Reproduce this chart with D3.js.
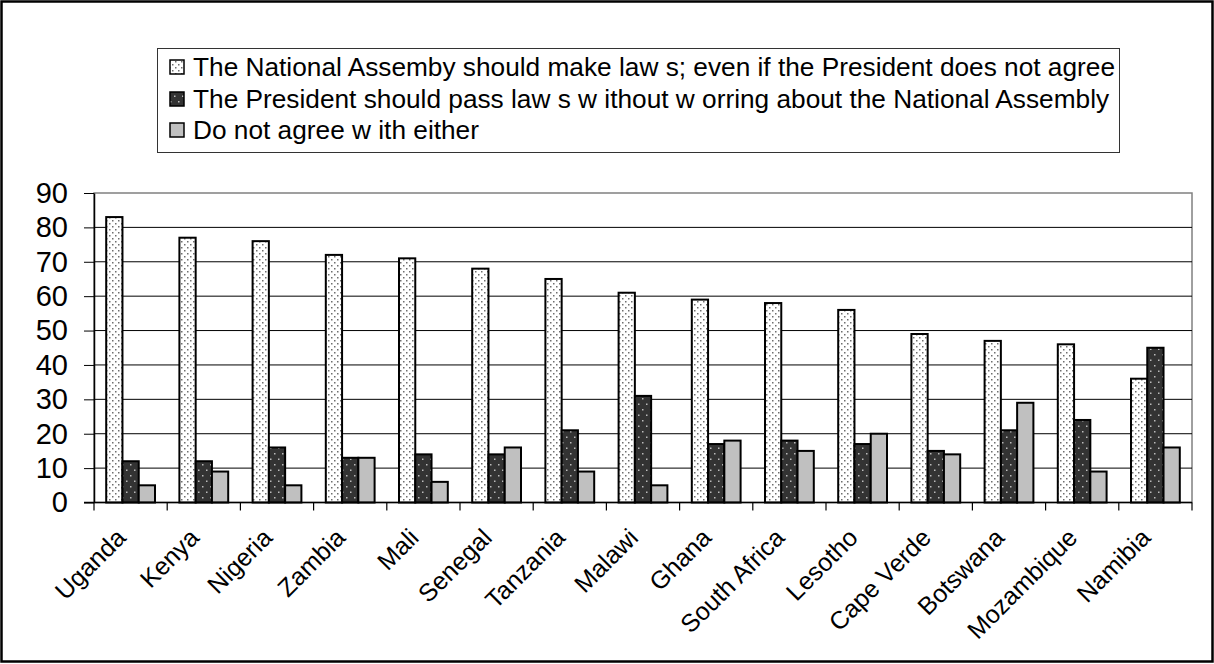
<!DOCTYPE html>
<html>
<head>
<meta charset="utf-8">
<script src="https://cdn.jsdelivr.net/npm/d3@7"></script>
<style>
  body { margin: 0; background: #fff; }
  svg { display: block; font-family: "Liberation Sans", Arial, sans-serif; }
</style>
</head>
<body>
<script>
const countries = [
  "Uganda", "Kenya", "Nigeria", "Zambia", "Mali", "Senegal", "Tanzania", "Malawi",
  "Ghana", "South Africa", "Lesotho", "Cape Verde", "Botswana", "Mozambique", "Namibia"
];

// National Assembly should make laws
const assemblyLaws = [83, 77, 76, 72, 71, 68, 65, 61, 59, 58, 56, 49, 47, 46, 36];
// President should pass laws
const presidentLaws = [12, 12, 16, 13, 14, 14, 21, 31, 17, 18, 17, 15, 21, 24, 45];
// agree with neither
const neither = [5, 9, 5, 13, 6, 16, 9, 5, 18, 15, 20, 14, 29, 9, 16];

const seriesNames = [
  "The National Assemby should make law s; even if the President does not agree",
  "The President should pass law s w ithout w orring about the National Assembly",
  "Do not agree w ith either"
];

const yTicks = [0, 10, 20, 30, 40, 50, 60, 70, 80, 90];

const series = [assemblyLaws, presidentLaws, neither];
const fills = ["url(#dots-light)", "url(#dots-dark)", "#c0c0c0"];

const W = 1214, H = 664;

const svg = d3
  .select("body")
  .append("svg")
  .attr("width", W)
  .attr("height", H);

// patterns
const defs = svg.append("defs");

const p1 = defs
  .append("pattern")
  .attr("id", "dots-light")
  .attr("patternUnits", "userSpaceOnUse")
  .attr("width", 6)
  .attr("height", 6);
p1.append("rect").attr("width", 6).attr("height", 6).attr("fill", "#fff");
p1.append("rect").attr("x", 1).attr("y", 1).attr("width", 1.5).attr("height", 1.5).attr("fill", "#6e6e6e");
p1.append("rect").attr("x", 4).attr("y", 4).attr("width", 1.5).attr("height", 1.5).attr("fill", "#6e6e6e");

const p2 = defs
  .append("pattern")
  .attr("id", "dots-dark")
  .attr("patternUnits", "userSpaceOnUse")
  .attr("width", 8)
  .attr("height", 11);
p2.append("rect").attr("width", 8).attr("height", 11).attr("fill", "#333");
p2.append("rect").attr("x", 2).attr("y", 2).attr("width", 1.5).attr("height", 1.5).attr("fill", "#bbb");
p2.append("rect").attr("x", 6).attr("y", 7.5).attr("width", 1.5).attr("height", 1.5).attr("fill", "#bbb");

// outer frame
svg
  .append("rect")
  .attr("x", 1.5)
  .attr("y", 1.5)
  .attr("width", W - 3)
  .attr("height", H - 4)
  .attr("fill", "none")
  .attr("stroke", "#000")
  .attr("stroke-width", 2.5);

// scales
const x = d3.scaleBand().domain(countries).range([94, 1192]).paddingInner(0).paddingOuter(0);
const xSub = d3.scaleBand().domain([0, 1, 2]).range([0, x.bandwidth()]).paddingInner(0).paddingOuter(0.75);
const y = d3.scaleLinear().domain([0, 90]).range([502.5, 193]);

// plot area border
svg
  .append("rect")
  .attr("x", 94)
  .attr("y", y(90))
  .attr("width", 1192 - 94)
  .attr("height", y(0) - y(90))
  .attr("fill", "none")
  .attr("stroke", "#808080")
  .attr("stroke-width", 1.5);

// gridlines
svg
  .append("g")
  .selectAll("line")
  .data(yTicks.filter((d) => d > 0 && d < 90))
  .enter()
  .append("line")
  .attr("x1", 94)
  .attr("x2", 1192)
  .attr("y1", (d) => y(d))
  .attr("y2", (d) => y(d))
  .attr("stroke", "#000")
  .attr("stroke-width", 1);

// bars
const groups = svg
  .append("g")
  .selectAll("g")
  .data(series)
  .enter()
  .append("g")
  .attr("fill", (d, i) => fills[i]);

groups
  .selectAll("rect")
  .data((d, i) => d.map((v, j) => ({ v, j, s: i })))
  .enter()
  .append("rect")
  .attr("x", (d) => x(countries[d.j]) + xSub(d.s))
  .attr("y", (d) => y(d.v))
  .attr("width", xSub.bandwidth())
  .attr("height", (d) => y(0) - y(d.v))
  .attr("stroke", "#000")
  .attr("stroke-width", 2);

// y axis
const yAxis = svg
  .append("g")
  .attr("transform", "translate(94,0)")
  .call(d3.axisLeft(y).tickValues(yTicks).tickSize(10).tickPadding(16).tickSizeOuter(0));

yAxis.select(".domain").attr("stroke", "#000").attr("stroke-width", 1.5);
yAxis.selectAll(".tick line").attr("stroke", "#000");
yAxis
  .selectAll(".tick text")
  .attr("fill", "#000")
  .style("font-size", "29px")
  .style("font-family", "Liberation Sans, Arial, sans-serif");

// x axis line and ticks at band edges
svg
  .append("line")
  .attr("x1", 84)
  .attr("x2", 1192)
  .attr("y1", y(0))
  .attr("y2", y(0))
  .attr("stroke", "#000")
  .attr("stroke-width", 1.5);

const edges = countries.map((c) => x(c)).concat([x.range()[1]]);
svg
  .append("g")
  .selectAll("line")
  .data(edges)
  .enter()
  .append("line")
  .attr("x1", (d) => d)
  .attr("x2", (d) => d)
  .attr("y1", y(0))
  .attr("y2", y(0) + 8)
  .attr("stroke", "#000")
  .attr("stroke-width", 1.2);

// category labels
svg
  .append("g")
  .selectAll("text")
  .data(countries)
  .enter()
  .append("text")
  .attr("transform", (d) => `translate(${x(d) + x.bandwidth() / 2 - 16},${y(0) + 24}) rotate(-45)`)
  .attr("text-anchor", "end")
  .attr("dy", "0.72em")
  .style("font-size", "25px")
  .text((d) => d);

// legend
const legend = svg.append("g");

legend
  .append("rect")
  .attr("x", 157.5)
  .attr("y", 48.5)
  .attr("width", 962)
  .attr("height", 104)
  .attr("fill", "#fff")
  .attr("stroke", "#333")
  .attr("stroke-width", 1);

const rowY = [67, 99, 130];

legend
  .selectAll(".sw")
  .data(seriesNames)
  .enter()
  .append("rect")
  .attr("class", "sw")
  .attr("x", 170)
  .attr("y", (d, i) => rowY[i] - 7)
  .attr("width", 14)
  .attr("height", 14)
  .attr("fill", (d, i) => fills[i])
  .attr("stroke", "#000")
  .attr("stroke-width", 1.5);

const labels = legend
  .selectAll(".lt")
  .data(seriesNames)
  .enter()
  .append("text")
  .attr("class", "lt")
  .attr("x", 193)
  .attr("y", (d, i) => rowY[i] + 9)
  .style("font-size", "25px")
  .text((d) => d);

// the reference text is a bit condensed; fit first row to its width
const natural = labels.nodes().map((n) => n.getComputedTextLength());
const squeeze = 922 / natural[0];
labels
  .attr("textLength", (d, i) => natural[i] * squeeze)
  .attr("lengthAdjust", "spacingAndGlyphs");
</script>
</body>
</html>
